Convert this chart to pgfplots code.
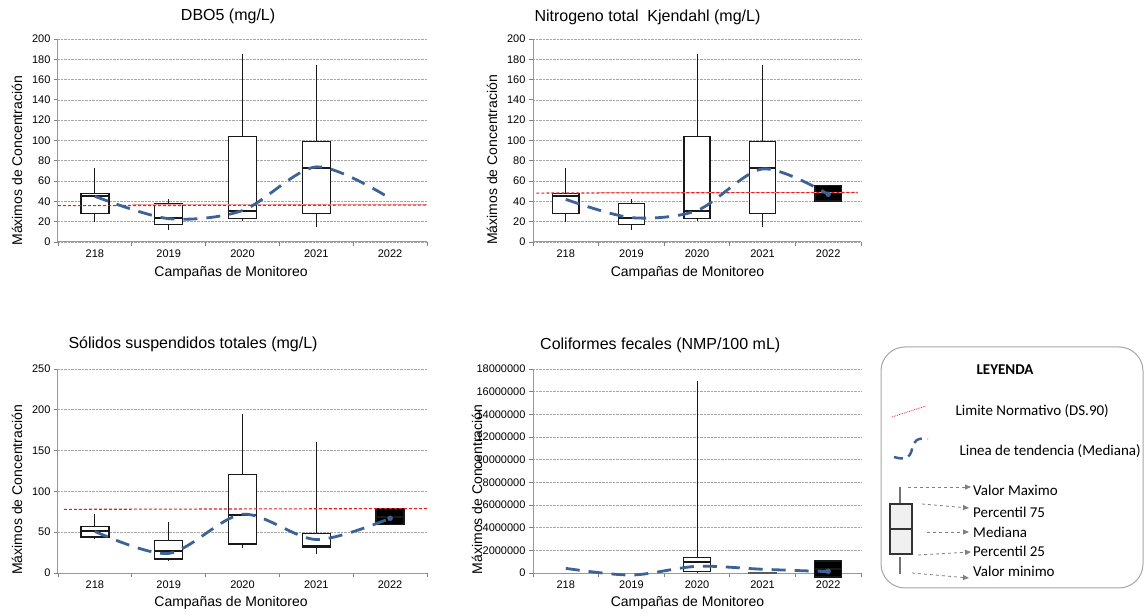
\documentclass[border=0pt]{standalone}
\usepackage{pgfplots}
\pgfplotsset{compat=1.18}
\usepgfplotslibrary{statistics}
\usetikzlibrary{arrows.meta}
\usepackage{fontspec}
\setmainfont{Liberation Sans}
\newfontfamily\calibri{Carlito}
\definecolor{trendblue}{RGB}{60,98,150}
\definecolor{limred}{RGB}{230,30,30}
\definecolor{limpink}{RGB}{240,170,170}

\pgfplotsset{
  panel/.style={
    scale only axis, anchor=south west,
    xmin=-0.5, xmax=4.5,
    xtick={-0.5,0.5,1.5,2.5,3.5,4.5},
    x tick label as interval,
    xticklabels={218,2019,2020,2021,2022},
    tick align=outside,
    major tick length=4pt,
    tick style={gray, line width=0.8pt},
    axis x line*=bottom, axis y line*=left,
    axis line style={-, gray!80, line width=1pt},
    ymajorgrids,
    grid style={densely dotted, gray!70, line width=0.7pt},
    tick label style={font=\fontsize{11}{13}\selectfont},
    /pgf/number format/assume math mode=true,
    scaled y ticks=false,
    xlabel={Campañas de Monitoreo},
    ylabel={Máximos de Concentración},
    label style={font=\fontsize{14}{16}\selectfont},
    every axis title shift=0pt,
    title style={font=\fontsize{16}{18}\selectfont, anchor=center},
    boxplot/draw direction=y,
    boxplot/box extend=0.38,
    boxplot/whisker extend=0,
    boxplot/every median/.style={line width=2pt},
    boxplot/every whisker/.style={line width=0.9pt},
  },
  bx/.style={black!90, line width=1.3pt, solid, mark=none, fill=white},
  trend/.style={trendblue, line width=2.8pt, dash pattern=on 14pt off 9pt, smooth},
  limbg/.style={limpink, line width=1.2pt, solid},
  lim/.style={limred, line width=1.1pt, dash pattern=on 3pt off 2pt},
}

\begin{document}
\begin{tikzpicture}
\useasboundingbox (0,0) rectangle (1147pt,615pt);

% ---------- Panel 1: DBO5 ----------
\begin{axis}[panel, at={(58pt,373pt)}, width=369pt, height=203pt,
  ymin=0, ymax=200, ytick={0,20,...,200},
  title={DBO5 (mg/L)}, title style={at={(0.461,1.113)}},
  xlabel style={at={(0.469,-0.153)}, anchor=center},
  ylabel style={at={(-0.111,0.40)}, anchor=center}]
\addplot[bx, boxplot prepared={draw position=0, lower whisker=20, lower quartile=28, median=45, upper quartile=48, upper whisker=73}] coordinates {};
\addplot[bx, boxplot prepared={draw position=1, lower whisker=12, lower quartile=17, median=24, upper quartile=38, upper whisker=42}] coordinates {};
\addplot[bx, boxplot prepared={draw position=2, lower whisker=21, lower quartile=23, median=31, upper quartile=104, upper whisker=185}] coordinates {};
\addplot[bx, boxplot prepared={draw position=3, lower whisker=15, lower quartile=28, median=73, upper quartile=99, upper whisker=174}] coordinates {};
\addplot[limbg] coordinates {(0.5,36.6) (4.5,36.6)};
\addplot[lim] coordinates {(-0.5,35.8) (4.5,36.4)};
\addplot[trend] coordinates {(0,45) (1,23) (2,31) (3,74) (4,43)};
\end{axis}

% ---------- Panel 2: NTK ----------
\begin{axis}[panel, at={(533pt,373pt)}, width=328pt, height=203pt,
  ymin=0, ymax=200, ytick={0,20,...,200},
  boxplot/box extend=0.40,
  title={Nitrogeno total\ \ Kjendahl (mg/L)}, title style={at={(0.349,1.108)}},
  xlabel style={at={(0.471,-0.153)}, anchor=center},
  ylabel style={at={(-0.125,0.404)}, anchor=center}]
\addplot[bx, boxplot prepared={draw position=0, lower whisker=20, lower quartile=28, median=45, upper quartile=48, upper whisker=73}] coordinates {};
\addplot[bx, boxplot prepared={draw position=1, lower whisker=12, lower quartile=17, median=24, upper quartile=38, upper whisker=42}] coordinates {};
\addplot[bx, boxplot prepared={draw position=2, lower whisker=21, lower quartile=23, median=31, upper quartile=104, upper whisker=185}] coordinates {};
\addplot[bx, boxplot prepared={draw position=3, lower whisker=15, lower quartile=28, median=73, upper quartile=99, upper whisker=174}] coordinates {};
\addplot[bx, fill=black, boxplot prepared={draw position=4, lower whisker=40.5, lower quartile=40.5, median=48, upper quartile=56, upper whisker=56}] coordinates {};
\addplot[limbg] coordinates {(0.5,49) (4.45,49)};
\addplot[lim] coordinates {(-0.45,48.2) (4.45,48.8)};
\addplot[trend] coordinates {(0,42) (1,24) (2,31) (3,72) (4,47)};
\addplot[only marks, mark=*, mark size=2.5pt, trendblue] coordinates {(4,47)};
\end{axis}

% ---------- Panel 3: SST ----------
\begin{axis}[panel, at={(58pt,42pt)}, width=369pt, height=204pt,
  ymin=0, ymax=250, ytick={0,50,...,250},
  title={Sólidos suspendidos totales (mg/L)}, title style={at={(0.366,1.123)}},
  xlabel style={at={(0.469,-0.147)}, anchor=center},
  ylabel style={at={(-0.111,0.407)}, anchor=center}]
\addplot[bx, boxplot prepared={draw position=0, lower whisker=42, lower quartile=44, median=51, upper quartile=57, upper whisker=72}] coordinates {};
\addplot[bx, boxplot prepared={draw position=1, lower whisker=15, lower quartile=17, median=26.5, upper quartile=39.5, upper whisker=62.5}] coordinates {};
\addplot[bx, boxplot prepared={draw position=2, lower whisker=30.5, lower quartile=35.5, median=70.5, upper quartile=121, upper whisker=195}] coordinates {};
\addplot[bx, boxplot prepared={draw position=3, lower whisker=23, lower quartile=32, median=32.5, upper quartile=48, upper whisker=161}] coordinates {};
\addplot[bx, fill=black, boxplot prepared={draw position=4, lower whisker=59.5, lower quartile=59.5, median=69, upper quartile=78.8, upper whisker=78.8}] coordinates {};
\addplot[lim] coordinates {(-0.42,78) (4.5,79)};
\addplot[trend] coordinates {(0,51) (1,24) (2,72) (3,41) (4,67)};
\addplot[only marks, mark=*, mark size=2.5pt, trendblue] coordinates {(4,67)};
\end{axis}

% ---------- Panel 4: Coliformes (values in millions of NMP/100 mL) ----------
\begin{axis}[panel, at={(533pt,42pt)}, width=328pt, height=204pt, clip=false,
  ymin=0, ymax=18,
  ytick={0,2,4,6,8,10,12,14,16,18},
  yticklabels={0,2000000,4000000,6000000,8000000,10000000,12000000,14000000,16000000,18000000},
  boxplot/box extend=0.41,
  title={Coliformes fecales (NMP/100 mL)}, title style={at={(0.388,1.118)}},
  xlabel style={at={(0.471,-0.147)}, anchor=center},
  ylabel style={at={(-0.171,0.41)}, anchor=center}]
\addplot[bx, boxplot prepared={draw position=2, lower whisker=0.10, lower quartile=0.11, median=0.94, upper quartile=1.35, upper whisker=16.95}] coordinates {};
\addplot[bx, draw=black!65, line width=2pt, boxplot prepared={draw position=3, lower whisker=0, lower quartile=0, median=0.02, upper quartile=0.04, upper whisker=0.06}] coordinates {};
\addplot[bx, fill=black, boxplot prepared={draw position=4, lower whisker=-0.35, lower quartile=-0.35, median=0.35, upper quartile=1.06, upper whisker=1.06}] coordinates {};
\addplot[trend] coordinates {(0,0.41) (1,-0.18) (2,0.59) (3,0.33) (4,0.12)};
\addplot[only marks, mark=*, mark size=2.5pt, trendblue] coordinates {(4,0.15)};
\end{axis}

% ---------- Legend ----------
\draw[gray!70, line width=1pt, rounded corners=24pt] (881pt,268pt) rectangle (1143pt,27pt);
\node[font=\calibri\bfseries\fontsize{15}{17}\selectfont] at (1005pt,245pt) {LEYENDA};
\draw[limred, line width=0.8pt, densely dotted] (892pt,198pt) -- (926pt,209pt);
\node[anchor=west, font=\calibri\fontsize{15}{17}\selectfont] at (952pt,204pt) {Limite Normativo (DS.90)};
\draw[trendblue, line width=2.5pt, dash pattern=on 9pt off 6pt] (894pt,158pt) .. controls (904pt,155pt) and (910pt,156pt) .. (912pt,166pt) .. controls (913pt,174pt) and (918pt,178pt) .. (928pt,176pt);
\node[anchor=west, font=\calibri\fontsize{15}{17}\selectfont] at (956pt,164pt) {Linea de tendencia (Mediana)};
% box glyph
\draw[gray!90!black, line width=1.2pt] (900pt,128pt) -- (900pt,111pt);
\draw[black!80, line width=1.2pt, fill=gray!12] (890pt,111pt) rectangle (912pt,61pt);
\draw[black!80, line width=1.2pt] (890pt,86pt) -- (912pt,86pt);
\draw[gray!90!black, line width=1.2pt] (900pt,58pt) -- (900pt,41pt);
\tikzset{legarrow/.style={gray, line width=0.8pt, dashed, -{Triangle[length=6pt,width=5pt]}}}
\draw[legarrow] (908pt,128pt) -- (971pt,128pt);
\draw[legarrow] (922pt,111pt) -- (969pt,107pt);
\draw[legarrow] (927pt,83pt) -- (969pt,83pt);
\draw[legarrow] (918pt,60pt) -- (971pt,63pt);
\draw[legarrow] (912pt,42pt) -- (969pt,37pt);
\tikzset{legtext/.style={anchor=west, inner sep=0pt, font=\calibri\fontsize{15}{17}\selectfont}}
\node[legtext] at (973pt,125pt) {Valor Maximo};
\node[legtext] at (973pt,103pt) {Percentil 75};
\node[legtext] at (973pt,83pt) {Mediana};
\node[legtext] at (973pt,64pt) {Percentil 25};
\node[legtext] at (973pt,44pt) {Valor minimo};
\end{tikzpicture}
\end{document}
